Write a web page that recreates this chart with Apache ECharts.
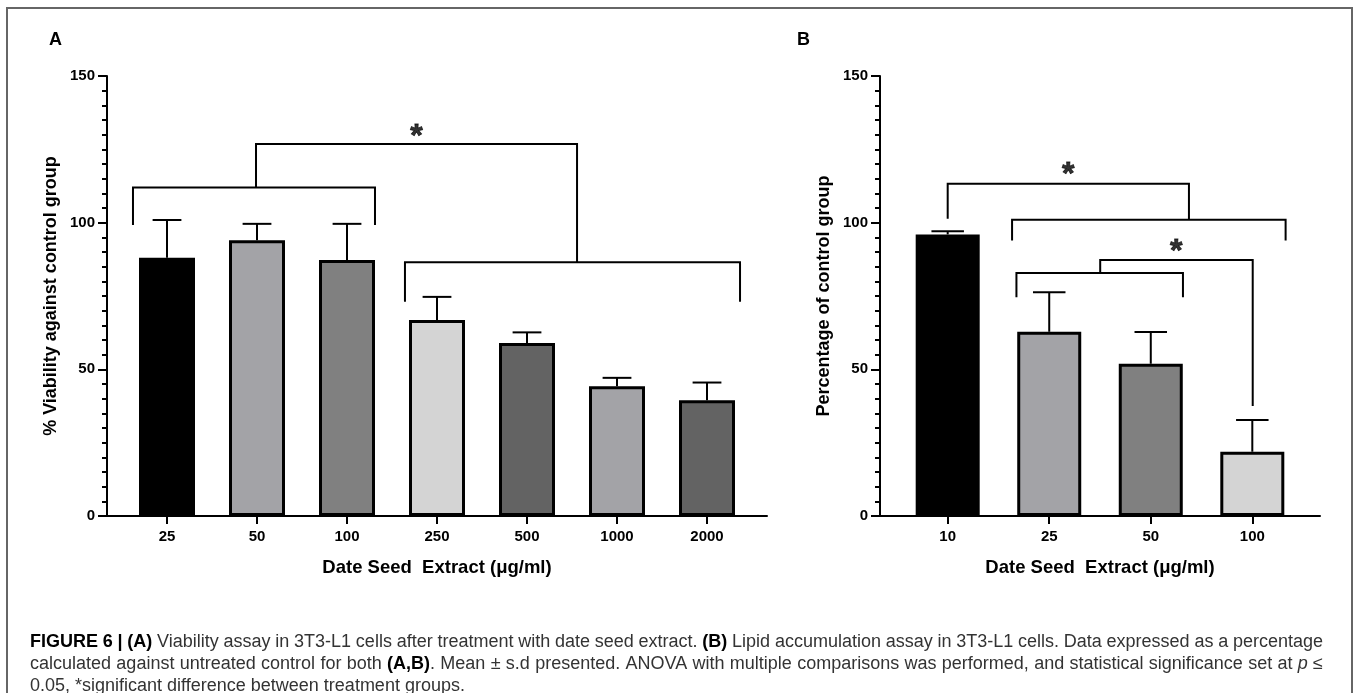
<!DOCTYPE html>
<html>
<head>
<meta charset="utf-8">
<script src="https://cdn.jsdelivr.net/npm/echarts@6/dist/echarts.min.js"></script>
<style>
  html, body { margin: 0; padding: 0; background: #fff; }
  #chart { width: 1358px; height: 693px; }
</style>
</head>
<body>
<div id="chart"></div>
<script>
// ---- Panel A: viability of 3T3-L1 cells (% of control) ----
const doseA  = ['25', '50', '100', '250', '500', '1000', '2000'];
const meanA  = [88, 94, 87.3, 66.8, 59, 44.2, 39.5];
const sdA    = [12.9, 5.6, 12.3, 7.9, 3.6, 2.9, 6.0];
const colorA = ['#000000', '#a3a3a7', '#808080', '#d4d4d4', '#636363', '#a3a3a7', '#636363'];

// ---- Panel B: lipid accumulation (% of control) ----
const doseB  = ['10', '25', '50', '100'];
const meanB  = [96, 62.8, 51.9, 21.9];
const sdB    = [1.1, 13.5, 10.8, 10.8];
const colorB = ['#000000', '#a3a3a7', '#808080', '#d4d4d4'];

// Significance brackets as polylines in [dose position, value] units
const bracketsA = [
  [[-0.378, 99.2], [-0.378, 112], [2.311, 112], [2.311, 99.2]],
  [[2.644, 73], [2.644, 86.5], [6.367, 86.5], [6.367, 73]],
  [[0.989, 112], [0.989, 126.8], [4.556, 126.8], [4.556, 86.5]]
];
const starsA = [[2.772, 131.5]];

const bracketsB = [
  [[0, 101.3], [0, 113.3], [2.376, 113.3], [2.376, 101]],
  [[0.634, 93.9], [0.634, 101], [3.328, 101], [3.328, 93.9]],
  [[0.677, 74.6], [0.677, 82.8], [2.317, 82.8], [2.317, 74.6]],
  [[1.502, 82.8], [1.502, 87.3], [3.004, 87.3], [3.004, 37.5]]
];
const starsB = [[1.188, 118.5], [2.251, 92.4]];

const xTitle = 'Date Seed  Extract (\u03bcg/ml)';
const yTitleA = '% Viability against control group';
const yTitleB = 'Percentage of control group';

// Caption, as styled runs per line: n = normal, b = bold, i = italic
const captionLines = [
  [['b', 'FIGURE 6 | (A)'], ['n', ' Viability assay in 3T3-L1 cells after treatment with date seed extract. '],
   ['b', '(B)'], ['n', ' Lipid accumulation assay in 3T3-L1 cells. Data expressed as a percentage']],
  [['n', 'calculated against untreated control for both '], ['b', '(A,B)'],
   ['n', '. Mean \u00b1 s.d presented. ANOVA with multiple comparisons was performed, and statistical significance set at '],
   ['i', 'p'], ['n', ' \u2264']],
  [['n', '0.05, *significant difference between treatment groups.']]
];

const FONT = '"Liberation Sans", Arial, Helvetica, sans-serif';
const boldText = (size) => ({ fontFamily: FONT, fontWeight: 'bold', fontSize: size, color: '#000' });

function xAxisFor(i, cats) {
  const pos = cats.map((_, k) => k);
  return {
    gridIndex: i, type: 'value',
    min: -2 / 3, max: cats.length - 1 + 2 / 3,
    axisLine: { show: true, onZero: false, lineStyle: { color: '#000', width: 2 } },
    axisTick: { show: true, customValues: pos, length: 8, lineStyle: { color: '#000', width: 2 } },
    axisLabel: Object.assign({ customValues: pos, margin: 13,
      formatter: v => cats[Math.round(v)] }, boldText(15)),
    splitLine: { show: false },
    name: xTitle, nameLocation: 'middle', nameGap: 42,
    nameTextStyle: boldText(18.5)
  };
}

function yAxisFor(i, title) {
  return {
    gridIndex: i, type: 'value', min: 0, max: 150, interval: 50,
    axisLine: { show: true, onZero: false, lineStyle: { color: '#000', width: 2 } },
    axisTick: { show: true, length: 9, lineStyle: { color: '#000', width: 2 } },
    minorTick: { show: true, splitNumber: 10, length: 5, lineStyle: { color: '#000', width: 2 } },
    axisLabel: Object.assign({ margin: 12 }, boldText(15)),
    splitLine: { show: false },
    name: title, nameLocation: 'middle', nameGap: 47,
    nameTextStyle: boldText(18)
  };
}

function seriesFor(i, means, sds, colors, brackets, stars, barW) {
  const out = [];
  out.push({
    type: 'bar', xAxisIndex: i, yAxisIndex: i, barWidth: barW,
    data: means.map((m, k) => ({ value: [k, m], itemStyle: { color: colors[k] } })),
    itemStyle: { borderColor: '#000', borderWidth: 3 },
    silent: true, animation: false
  });
  out.push({
    type: 'custom', xAxisIndex: i, yAxisIndex: i,
    data: means.map((m, k) => [k, m, sds[k]]),
    renderItem: (params, api) => {
      const x = api.value(0), m = api.value(1), s = api.value(2);
      const p0 = api.coord([x, m]);
      const p1 = api.coord([x, m + s]);
      const half = api.size([1, 0])[0] * 0.16;
      const st = { stroke: '#000', lineWidth: 2 };
      return { type: 'group', children: [
        { type: 'line', shape: { x1: p0[0], y1: p0[1], x2: p1[0], y2: p1[1] }, style: st },
        { type: 'line', shape: { x1: p1[0] - half, y1: p1[1], x2: p1[0] + half, y2: p1[1] }, style: st }
      ]};
    },
    z: 3, silent: true, animation: false
  });
  brackets.forEach(b => out.push({
    type: 'line', xAxisIndex: i, yAxisIndex: i, data: b,
    symbol: 'none', lineStyle: { color: '#000', width: 2, join: 'miter', cap: 'butt' },
    z: 4, silent: true, animation: false
  }));
  out.push({
    type: 'scatter', xAxisIndex: i, yAxisIndex: i, data: stars,
    symbolSize: 1, itemStyle: { color: 'rgba(0,0,0,0)' },
    label: Object.assign({ show: true, formatter: '*', position: 'inside', offset: [0, 7],
      textBorderColor: '#000', textBorderWidth: 0.8 }, boldText(32)),
    z: 5, silent: true, animation: false
  });
  return out;
}

// ---- caption layout: justified lines built from measured words ----
const CAP_SIZE = 18;
const capFonts = {
  n: CAP_SIZE + 'px ' + FONT,
  b: 'bold ' + CAP_SIZE + 'px ' + FONT,
  i: 'italic ' + CAP_SIZE + 'px ' + FONT
};
const capFill = { n: '#333', b: '#000', i: '#333' };
const measureCtx = document.createElement('canvas').getContext('2d');
function textWidth(t, s) { measureCtx.font = capFonts[s]; return measureCtx.measureText(t).width; }

function captionGraphics(lines, x0, x1, y0, lineGap) {
  const els = [];
  lines.forEach((runs, li) => {
    // split runs into words, each word a list of styled pieces
    const words = [[]];
    runs.forEach(([s, t]) => {
      t.split(' ').forEach((part, pi) => {
        if (pi > 0) words.push([]);
        if (part) words[words.length - 1].push([s, part]);
      });
    });
    const ws = words.filter(w => w.length);
    const widths = ws.map(w => w.reduce((a, [s, t]) => a + textWidth(t, s), 0));
    const total = widths.reduce((a, b) => a + b, 0);
    const justify = li < lines.length - 1;
    const gap = justify ? (x1 - x0 - total) / (ws.length - 1) : textWidth(' ', 'n');
    let x = x0;
    const y = y0 + li * lineGap;
    ws.forEach((w, wi) => {
      let px = x;
      w.forEach(([s, t]) => {
        els.push({ type: 'text', x: px, y: y, silent: true,
          style: { text: t, font: capFonts[s], fill: capFill[s],
                   textVerticalAlign: 'middle', verticalAlign: 'middle' } });
        px += textWidth(t, s);
      });
      x += widths[wi] + gap;
    });
  });
  return els;
}

const chart = echarts.init(document.getElementById('chart'), null, { renderer: 'canvas' });
chart.setOption({
  animation: false,
  backgroundColor: '#fff',
  grid: [
    { left: 107, top: 76, width: 660, height: 440 },
    { left: 880, top: 76, width: 440, height: 440 }
  ],
  xAxis: [xAxisFor(0, doseA), xAxisFor(1, doseB)],
  yAxis: [yAxisFor(0, yTitleA), yAxisFor(1, yTitleB)],
  series: [].concat(
    seriesFor(0, meanA, sdA, colorA, bracketsA, starsA, 56),
    seriesFor(1, meanB, sdB, colorB, bracketsB, starsB, 64)
  ),
  graphic: [
    { type: 'rect', shape: { x: 7, y: 8, width: 1345, height: 700 },
      style: { fill: 'none', stroke: '#666', lineWidth: 2 }, silent: true },
    { type: 'text', left: 49, top: 31, style: { text: 'A', font: 'bold 18px ' + FONT, fill: '#000' } },
    { type: 'text', left: 797, top: 31, style: { text: 'B', font: 'bold 18px ' + FONT, fill: '#000' } }
  ].concat(captionGraphics(captionLines, 30, 1323, 642, 22))
});
</script>
</body>
</html>
